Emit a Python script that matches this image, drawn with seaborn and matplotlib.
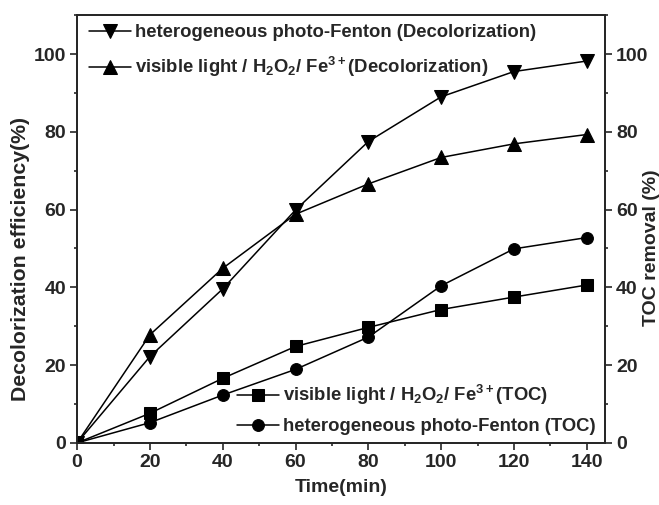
import matplotlib
matplotlib.use("Agg")
import matplotlib.pyplot as plt
import seaborn as sns
import pandas as pd
from matplotlib.ticker import MultipleLocator

sns.set_style("ticks")
plt.rcParams['font.family'] = ['Liberation Sans', 'DejaVu Sans']
plt.rcParams['font.weight'] = 'bold'
plt.rcParams['mathtext.fontset'] = 'custom'
plt.rcParams['mathtext.rm'] = 'Liberation Sans:bold'
plt.rcParams['mathtext.it'] = 'Liberation Sans:bold'
plt.rcParams['mathtext.bf'] = 'Liberation Sans:bold'
plt.rcParams['mathtext.default'] = 'rm'

time = [0, 20, 40, 60, 80, 100, 120, 140]
hetero_decol = [0, 22.2, 39.6, 59.9, 77.5, 89.0, 95.5, 98.2]
visible_decol = [0, 27.8, 44.9, 58.8, 66.6, 73.4, 76.9, 79.3]
visible_toc = [0, 7.6, 16.6, 24.8, 29.7, 34.3, 37.5, 40.6]
hetero_toc = [0, 5.2, 12.3, 18.9, 27.2, 40.4, 49.9, 52.8]

lab_hd = "heterogeneous photo-Fenton (Decolorization)"
lab_vd = r"visible light / H$_2$O$_2$/ Fe$^{3+}$(Decolorization)"
lab_vt = r"visible light / H$_2$O$_2$/ Fe$^{3+}$(TOC)"
lab_ht = "heterogeneous photo-Fenton (TOC)"

df = pd.DataFrame({"time": time, "hd": hetero_decol, "vd": visible_decol,
                   "vt": visible_toc, "ht": hetero_toc})

fig = plt.figure(figsize=(6.59, 5.05), dpi=100)
ax = fig.add_axes([0.117, 0.123, 0.801, 0.847])
ax2 = ax.twinx()

kw = dict(color="black", linewidth=1.1, markersize=10, markeredgecolor="black")
kw2 = dict(color="black", linewidth=1.1, markersize=8.5, markeredgecolor="black")
sns.lineplot(data=df, x="time", y="hd", marker="v", ax=ax, label=lab_hd, **kw)
sns.lineplot(data=df, x="time", y="vd", marker="^", ax=ax, label=lab_vd, **kw)
sns.lineplot(data=df, x="time", y="vt", marker="s", ax=ax2, label=lab_vt, **kw2)
sns.lineplot(data=df, x="time", y="ht", marker="o", ax=ax2, label=lab_ht, **kw2)

for a in (ax, ax2):
    a.set_xlim(0, 145)
    a.set_ylim(0, 110)
    a.yaxis.set_major_locator(MultipleLocator(20))
    a.yaxis.set_minor_locator(MultipleLocator(10))
    a.tick_params(axis='both', which='major', direction='out', length=5, width=1.2,
                  labelsize=14, pad=3)
    a.tick_params(axis='both', which='minor', direction='out', length=2.5, width=1.2)
    for s in a.spines.values():
        s.set_linewidth(1.3)
        s.set_visible(True)
ax.xaxis.set_major_locator(MultipleLocator(20))
ax.xaxis.set_minor_locator(MultipleLocator(10))
ax.tick_params(axis='y', which='both', right=False)
ax2.tick_params(axis='y', which='both', left=False, right=True)

for lbl in ax.get_xticklabels() + ax.get_yticklabels() + ax2.get_yticklabels():
    lbl.set_fontweight('bold')

ax.set_xlabel("Time(min)", fontsize=14, fontweight='bold', labelpad=6)
ax.set_ylabel("Decolorization efficiency(%)", fontsize=15.3, fontweight='bold')
ax.yaxis.set_label_coords(-0.09, 0.43)
ax2.set_ylabel("TOC removal (%)", fontsize=14, fontweight='bold')
ax2.yaxis.set_label_coords(1.073, 0.456)

leg1 = ax.legend(loc="upper left", frameon=False, fontsize=13.3, handlelength=2.3,
                 handletextpad=0.2, labelspacing=0.73, borderaxespad=0.1,
                 bbox_to_anchor=(0.005, 1.0))
leg2 = ax2.legend(loc="lower right", frameon=False, fontsize=13.3, handlelength=2.3,
                  handletextpad=0.2, labelspacing=0.6, borderaxespad=0.1,
                  bbox_to_anchor=(1.0, -0.004))
for leg in (leg1, leg2):
    for t in leg.get_texts():
        t.set_fontweight('bold')

fig.savefig("out.png", dpi=100)
